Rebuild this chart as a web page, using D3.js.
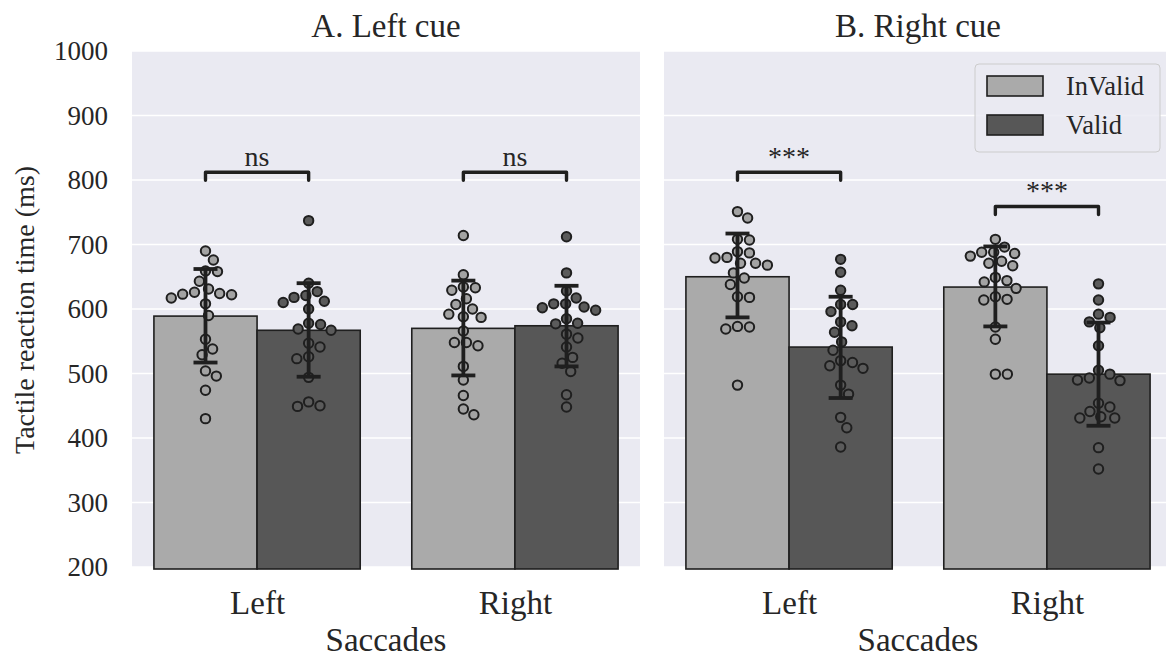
<!DOCTYPE html>
<html>
<head>
<meta charset="utf-8">
<script src="https://cdn.jsdelivr.net/npm/d3@7"></script>
<style>
  html, body { margin: 0; padding: 0; background: #ffffff; }
  svg { display: block; }
  text { font-family: "Liberation Serif", "Times New Roman", serif; fill: #262626; }
</style>
</head>
<body>
<svg id="chart" width="1166" height="659"></svg>
<script>
// ---------------- data ----------------
const panels = ["A. Left cue", "B. Right cue"];
const categories = ["Left", "Right"];
const hues = ["InValid", "Valid"];
const yTicks = [200, 300, 400, 500, 600, 700, 800, 900, 1000];

// mean values [category][hue]
const meansLeftCue  = [[589, 567], [570, 574]];
const meansRightCue = [[650, 541], [634, 499]];
// error bar extents (low, high)
const errLeftCue  = [[[517, 662], [495, 640]], [[497, 644], [511, 636]]];
const errRightCue = [[[587, 717], [462, 619]], [[573, 697], [419, 579]]];

// individual participants
const ptsLeftCueLeftInValid  = [690, 676, 658, 659, 643, 631, 624, 622, 617, 623, 626, 608, 590, 553, 538, 529, 504, 496, 474, 430];
const ptsLeftCueLeftValid    = [737, 640, 627, 621, 618, 610, 612, 600, 578, 576, 569, 567, 547, 541, 526, 523, 494, 450, 449, 456];
const ptsLeftCueRightInValid = [714, 653, 633, 634, 629, 616, 607, 600, 588, 587, 592, 566, 548, 543, 548, 511, 490, 466, 445, 436];
const ptsLeftCueRightValid   = [712, 656, 628, 617, 608, 603, 598, 602, 608, 585, 577, 578, 561, 555, 541, 525, 516, 503, 467, 448];
const ptsRightCueLeftInValid = [751, 741, 707, 708, 689, 687, 680, 671, 668, 671, 679, 656, 648, 638, 619, 618, 572, 569, 573, 482];
const ptsRightCueLeftValid   = [677, 657, 629, 607, 607, 596, 574, 580, 564, 549, 536, 512, 508, 517, 520, 482, 468, 432, 416, 386];
const ptsRightCueRightInValid= [708, 696, 682, 686, 688, 688, 671, 667, 674, 644, 642, 649, 632, 615, 614, 619, 572, 553, 499, 499];
const ptsRightCueRightValid  = [639, 614, 580, 587, 592, 571, 543, 499, 490, 489, 493, 505, 454, 448, 441, 431, 431, 433, 385, 352];

// significance brackets
const sigLevels = [[812, 812], [812, 759]];
const sigLabels = [["ns", "ns"], ["***", "***"]];

const panelMeans = [meansLeftCue, meansRightCue];
const panelErrs = [errLeftCue, errRightCue];
const panelPts = [
  [[ptsLeftCueLeftInValid, ptsLeftCueLeftValid], [ptsLeftCueRightInValid, ptsLeftCueRightValid]],
  [[ptsRightCueLeftInValid, ptsRightCueLeftValid], [ptsRightCueRightInValid, ptsRightCueRightValid]]
];

// ---------------- styling ----------------
const barFill = ["#aaaaaa", "#575757"];
const ptFill = ["#a3a3a3", "#5b5b5b"];
const dark = "#1f1f1f";
const bg = "#eaeaf2";
const serif = '"Liberation Serif", "Times New Roman", serif';

const svg = d3.select("#chart");
const panelRanges = [[132, 640], [664, 1172]];
const plotTop = 51, plotBottom = 567;

const y = d3.scaleLinear().domain([200, 1000]).range([plotBottom, plotTop]);

panels.forEach((title, pi) => {
  const x = d3.scaleLinear().domain([-0.485, 1.485]).range(panelRanges[pi]);
  const g = svg.append("g");
  const [x0, x1] = panelRanges[pi];

  g.append("rect").attr("x", x0).attr("y", plotTop).attr("width", x1 - x0).attr("height", plotBottom - plotTop).attr("fill", bg);

  // grid
  g.append("g").selectAll("line").data(yTicks).join("line")
    .attr("x1", x0).attr("x2", x1)
    .attr("y1", d => y(d)).attr("y2", d => y(d))
    .attr("stroke", "#ffffff").attr("stroke-width", 1.6);

  // y axis labels (only first panel)
  if (pi === 0) {
    const ax = d3.axisLeft(y).tickValues(yTicks).tickSize(0).tickPadding(0).tickFormat(d3.format("d"));
    const ag = g.append("g").attr("transform", `translate(108,0)`).call(ax);
    ag.select(".domain").remove();
    ag.selectAll("text").attr("font-size", 27).attr("fill", "#262626").style("font-family", serif);
  }

  // x axis tick labels
  const xa = d3.axisBottom(x).tickValues([0, 1]).tickFormat(i => categories[i]).tickSize(0).tickPadding(0);
  const xg = g.append("g").attr("transform", `translate(0,614)`).call(xa);
  xg.select(".domain").remove();
  xg.selectAll("text").attr("font-size", 33).attr("fill", "#262626").attr("dy", "0")
    .style("font-family", serif);

  // x axis label
  g.append("text").attr("x", (x0 + x1) / 2).attr("y", 651).attr("text-anchor", "middle")
    .attr("font-size", 33).text("Saccades");

  // title
  g.append("text").attr("x", (x0 + x1) / 2).attr("y", 37).attr("text-anchor", "middle")
    .attr("font-size", 33).text(title);

  const bw = 0.4;
  const bars = [];
  categories.forEach((c, ci) => hues.forEach((h, hi) => {
    bars.push({ ci, hi, v: panelMeans[pi][ci][hi], err: panelErrs[pi][ci][hi], pts: panelPts[pi][ci][hi] });
  }));

  // bars
  g.append("g").selectAll("rect").data(bars).join("rect")
    .attr("x", d => x(d.ci - bw + d.hi * bw))
    .attr("width", d => x(bw) - x(0))
    .attr("y", d => y(d.v))
    .attr("height", d => y(200) - y(d.v) + 2)
    .attr("fill", d => barFill[d.hi])
    .attr("stroke", dark).attr("stroke-width", 1.6);

  // swarm points
  const diam = 12;
  bars.forEach(d => {
    const cx = x(d.ci - bw / 2 + d.hi * bw);
    const sorted = d.pts.map(v => ({ v, py: y(v) })).sort((a, b) => a.py - b.py);
    const placed = [];
    sorted.forEach(p => {
      const nbrs = placed.filter(q => Math.abs(q.py - p.py) < diam);
      const cands = [0];
      nbrs.forEach(q => {
        const dx = Math.sqrt(diam * diam - (q.py - p.py) ** 2);
        cands.push(q.dx + dx, q.dx - dx);
      });
      cands.sort((a, b) => Math.abs(a) - Math.abs(b));
      let chosen = 0;
      for (const c of cands) {
        const ok = nbrs.every(q => (q.dx - c) ** 2 + (q.py - p.py) ** 2 >= diam * diam - 0.01);
        if (ok) { chosen = c; break; }
      }
      p.dx = chosen;
      placed.push(p);
    });
    g.append("g").selectAll("circle").data(placed).join("circle")
      .attr("cx", p => cx + p.dx).attr("cy", p => p.py).attr("r", 4.7)
      .attr("fill", ptFill[d.hi]).attr("stroke", dark).attr("stroke-width", 2);
  });

  // error bars
  const eg = g.append("g").attr("stroke", dark).attr("stroke-width", 3.8);
  bars.forEach(d => {
    const cx = x(d.ci - bw / 2 + d.hi * bw);
    eg.append("line").attr("x1", cx).attr("x2", cx).attr("y1", y(d.err[0])).attr("y2", y(d.err[1]));
    eg.append("line").attr("x1", cx - 12).attr("x2", cx + 12).attr("y1", y(d.err[0])).attr("y2", y(d.err[0]));
    eg.append("line").attr("x1", cx - 12).attr("x2", cx + 12).attr("y1", y(d.err[1])).attr("y2", y(d.err[1]));
  });

  // significance brackets
  categories.forEach((c, ci) => {
    const xa1 = x(ci - bw / 2), xa2 = x(ci + bw / 2);
    const yl = y(sigLevels[pi][ci]);
    g.append("path")
      .attr("d", `M${xa1},${yl + 8}V${yl}H${xa2}V${yl + 8}`)
      .attr("fill", "none").attr("stroke", dark).attr("stroke-width", 3.4)
      .attr("stroke-linejoin", "round").attr("stroke-linecap", "round");
    g.append("text").attr("x", (xa1 + xa2) / 2).attr("y", yl - 6).attr("text-anchor", "middle")
      .attr("font-size", 28).text(sigLabels[pi][ci]);
  });

  // legend in panel B
  if (pi === 1) {
    const lg = g.append("g");
    lg.append("rect").attr("x", 975).attr("y", 64).attr("width", 185).attr("height", 88)
      .attr("rx", 4).attr("fill", bg).attr("fill-opacity", 0.85).attr("stroke", "#cccccc").attr("stroke-width", 1);
    hues.forEach((h, hi) => {
      const ly = 86 + hi * 39;
      lg.append("rect").attr("x", 987).attr("y", ly - 10).attr("width", 56).attr("height", 20)
        .attr("fill", barFill[hi]).attr("stroke", dark).attr("stroke-width", 1.6);
      lg.append("text").attr("x", 1066).attr("y", ly + 9).attr("font-size", 26.5).text(h);
    });
  }
});

// y axis title
svg.append("text").attr("transform", "translate(34,310) rotate(-90)").attr("text-anchor", "middle")
  .attr("font-size", 28).text("Tactile reaction time (ms)");
</script>
</body>
</html>
